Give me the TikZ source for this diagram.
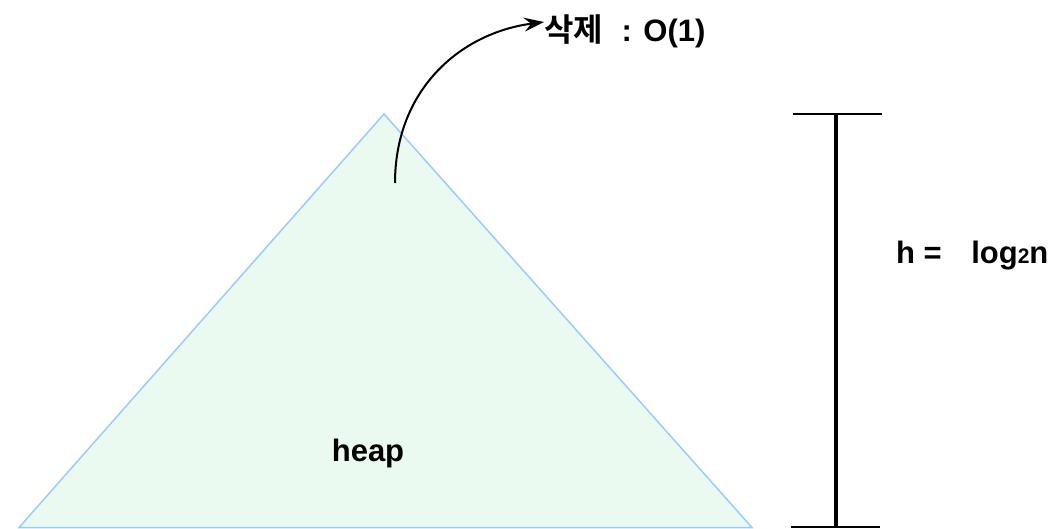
\documentclass[tikz,border=0pt]{standalone}
\usepackage{fontspec}
\setmainfont{Liberation Sans}
\newfontfamily\krfont{Noto Sans CJK KR}[BoldFont={Noto Sans CJK KR Bold}]
\usetikzlibrary{arrows.meta}
\definecolor{heapfill}{RGB}{235,250,240}
\definecolor{heapline}{RGB}{153,204,255}
\tikzset{
  lbl/.style={font=\bfseries\fontsize{31}{36}\selectfont, inner sep=0pt, text=black},
  heapshape/.style={fill=heapfill, draw=heapline, line width=1.5pt, line join=miter},
  measure/.style={draw=black, line width=2pt},
  curvearrow/.style={draw=black, line width=2pt, -{Stealth[length=20pt,width=14pt,inset=7pt]}}
}
\begin{document}
\begin{tikzpicture}[x=1pt,y=-1pt]
\useasboundingbox (0,0) rectangle (1055,528);
% heap triangle
\coordinate (apex) at (384,114);
\coordinate (bl) at (19,527.5);
\coordinate (br) at (752,527.5);
\path[heapshape] (bl) -- (apex) -- (br) -- cycle;
\node[lbl, anchor=base] (heap) at (368,461) {heap};
% deletion arrow
\coordinate (start) at (395,183);
\coordinate (tip) at (544,22);
\node[lbl, anchor=base west] (del) at (544,41) {{\krfont\bfseries\fontsize{32}{36}\selectfont 삭제}\hspace{0.6em}: O(1)};
\draw[curvearrow] (start) .. controls (395,90) and (460,33) .. (tip);
% height measure
\coordinate (vt) at (836,114);
\coordinate (vb) at (836,527);
\coordinate (tl) at (793,114);
\coordinate (tr) at (882,114);
\coordinate (bbl) at (791,527);
\coordinate (bbr) at (880,527);
\draw[measure, line width=3.5pt] (vt) -- (vb);
\draw[measure] (tl) -- (tr);
\draw[measure] (bbl) -- (bbr);
\node[lbl, anchor=base west] (h) at (896,263) {h =\hspace{0.95em}log{\fontsize{21}{22}\selectfont 2}n};
\end{tikzpicture}
\end{document}
